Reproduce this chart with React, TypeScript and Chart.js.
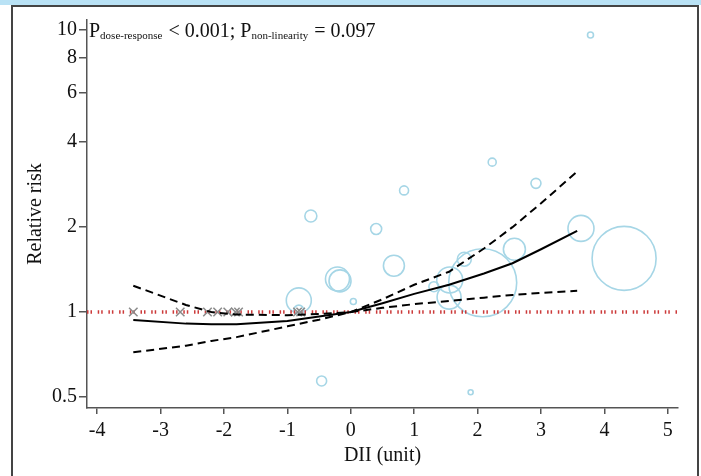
import React, { useEffect, useRef } from "react";
import { Chart, registerables } from "chart.js";

Chart.register(...registerables);

// ---- axis ticks ----
const xTickValues = [-4, -3, -2, -1, 0, 1, 2, 3, 4, 5];
const yTickValues = [0.5, 1, 2, 4, 6, 8, 10];
const xMin = -4.16;
const xMax = 5.16;
const yMin = 0.457;
const yMax = 10.85;

// ---- fitted dose-response curve and 95% CI ----
const curveX = [-3.43, -2.6, -2.2, -1.8, -1.0, -0.5, 0, 0.5, 1.0, 1.55, 2.1, 2.55, 3.0, 3.57];
const curveRR = [0.937, 0.91, 0.905, 0.906, 0.93, 0.965, 1.0, 1.075, 1.16, 1.25, 1.37, 1.49, 1.67, 1.94];
const curveUpper = [1.24, 1.06, 1.0, 0.98, 0.975, 0.985, 1.0, 1.11, 1.25, 1.39, 1.68, 2.0, 2.43, 3.15];
const curveLower = [0.72, 0.76, 0.79, 0.815, 0.89, 0.94, 1.0, 1.035, 1.067, 1.094, 1.125, 1.15, 1.17, 1.19];

// ---- individual study estimates (bubbles) ----
const studyX = [3.78, -0.63, 0.4, 0.84, 2.23, 2.92, 0.68, -0.21, -0.17, -0.82, -0.82, 0.04, 3.63, 4.31, 2.58, 2.08, 1.79, 1.56, 1.55, 1.31, -0.46, 1.89];
const studyRR = [9.6, 2.19, 1.97, 2.7, 3.4, 2.86, 1.46, 1.31, 1.29, 1.1, 1.016, 1.09, 1.98, 1.55, 1.67, 1.27, 1.54, 1.3, 1.13, 1.23, 0.57, 0.52];
const studyWeight = [3, 6, 5.5, 4.5, 4, 5, 10.5, 12, 11, 12.5, 5, 3, 13, 32, 11, 34, 7, 13, 12, 5, 5, 2.5];

// ---- reference categories (crosses at RR = 1) ----
const refX = [-3.43, -2.69, -2.26, -2.1, -1.94, -1.82, -1.77, -0.84, -0.79];
const refRR = [1, 1, 1, 1, 1, 1, 1, 1, 1];

// ---- texts ----
const xTitle = "DII (unit)";
const yTitle = "Relative risk";
const annotText = ["P", "dose-response", " < 0.001; P", "non-linearity", " = 0.097"];
const annotIsSub = [false, true, false, true, false];

const FONT = '"Liberation Serif", "Times New Roman", serif';

const annotationPlugin = {
  id: "pAnnotation",
  afterDraw(chart: any) {
    const ctx = chart.ctx;
    ctx.save();
    ctx.fillStyle = "#111";
    ctx.textBaseline = "alphabetic";
    let x = chart.chartArea.left + 2;
    const base = 37;
    annotText.forEach((t, i) => {
      const sub = annotIsSub[i];
      ctx.font = `${sub ? 11 : 20}px ${FONT}`;
      ctx.fillText(t, x, base + (sub ? 2 : 0));
      x += ctx.measureText(t).width + (sub ? 1 : 0);
    });
    ctx.restore();
  },
};

export default function App() {
  const ref = useRef<HTMLCanvasElement | null>(null);

  useEffect(() => {
    if (!ref.current) return;
    const pts = (xs: number[], ys: number[]) => xs.map((x, i) => ({ x, y: ys[i] }));
    const chart = new Chart(ref.current, {
      type: "scatter",
      data: {
        datasets: [
          {
            type: "line",
            data: pts(curveX, curveRR),
            borderColor: "#000",
            borderWidth: 2,
            pointRadius: 0,
            tension: 0,
            fill: false,
          } as any,
          {
            type: "line",
            data: pts(curveX, curveUpper),
            borderColor: "#000",
            borderWidth: 2,
            borderDash: [8, 5],
            pointRadius: 0,
            tension: 0,
            fill: false,
          } as any,
          {
            type: "line",
            data: pts(curveX, curveLower),
            borderColor: "#000",
            borderWidth: 2,
            borderDash: [8, 5],
            pointRadius: 0,
            tension: 0,
            fill: false,
          } as any,
          {
            type: "scatter",
            data: pts(refX, refRR),
            pointStyle: "crossRot",
            pointRadius: 6,
            borderColor: "#8a8a8a",
            borderWidth: 1.5,
          } as any,
          {
            type: "line",
            data: [
              { x: xMin, y: 1 },
              { x: xMax, y: 1 },
            ],
            borderColor: "#cc3a3a",
            borderWidth: 3.5,
            borderDash: [1.5, 2, 1.5, 5.7],
            borderCapStyle: "butt",
            pointRadius: 0,
            fill: false,
          } as any,
          {
            type: "bubble",
            data: studyX.map((x, i) => ({ x, y: studyRR[i], r: studyWeight[i] })),
            borderColor: "#a6d6e6",
            backgroundColor: "rgba(0,0,0,0)",
            borderWidth: 1.6,
          } as any,
        ],
      },
      options: {
        animation: false,
        responsive: false,
        events: [],
        layout: { autoPadding: false, padding: { top: 20, right: 23, left: 0, bottom: 0 } },
        plugins: { legend: { display: false }, tooltip: { enabled: false } },
        scales: {
          x: {
            type: "linear",
            min: xMin,
            max: xMax,
            afterBuildTicks: (s: any) => {
              s.ticks = xTickValues.map((v) => ({ value: v }));
            },
            afterFit: (s: any) => {
              s.height = 68;
            },
            ticks: {
              font: { family: FONT, size: 20 },
              color: "#111",
              padding: 5,
              maxRotation: 0,
              autoSkip: false,
              callback: (v: any) => String(v),
            },
            grid: { drawOnChartArea: false, drawTicks: true, tickLength: 6, color: "#555", lineWidth: 1.5 },
            border: { display: true, color: "#555", width: 1.5 },
            title: {
              display: true,
              text: xTitle,
              font: { family: FONT, size: 20 },
              color: "#111",
              padding: { top: 0, bottom: 8 },
            },
          },
          y: {
            type: "logarithmic",
            min: yMin,
            max: yMax,
            afterBuildTicks: (s: any) => {
              s.ticks = yTickValues.map((v) => ({ value: v }));
            },
            afterFit: (s: any) => {
              s.width = 87;
            },
            ticks: {
              font: { family: FONT, size: 20 },
              color: "#111",
              padding: 2,
              autoSkip: false,
              callback: (v: any) => String(v),
            },
            grid: { drawOnChartArea: false, drawTicks: true, tickLength: 8, color: "#555", lineWidth: 1.5 },
            border: { display: true, color: "#555", width: 1.5 },
            title: {
              display: true,
              text: yTitle,
              font: { family: FONT, size: 20 },
              color: "#111",
              padding: { top: 24, bottom: 0 },
            },
          },
        },
      },
      plugins: [annotationPlugin],
    });
    return () => chart.destroy();
  }, []);

  return (
    <div style={{ position: "absolute", left: 0, top: 0, width: 701, height: 476, overflow: "hidden", background: "#fff" }}>
      <div style={{ position: "absolute", left: 0, top: 0, width: 701, height: 5, background: "#b9e2f5" }} />
      <div
        style={{
          position: "absolute",
          left: 11,
          top: 5,
          width: 684,
          height: 490,
          borderTop: "2px solid #444",
          borderLeft: "2px solid #444",
          borderRight: "2px solid #444",
        }}
      />
      <canvas ref={ref} width={701} height={476} style={{ position: "absolute", left: 0, top: 0, width: 701, height: 476 }} />
    </div>
  );
}
